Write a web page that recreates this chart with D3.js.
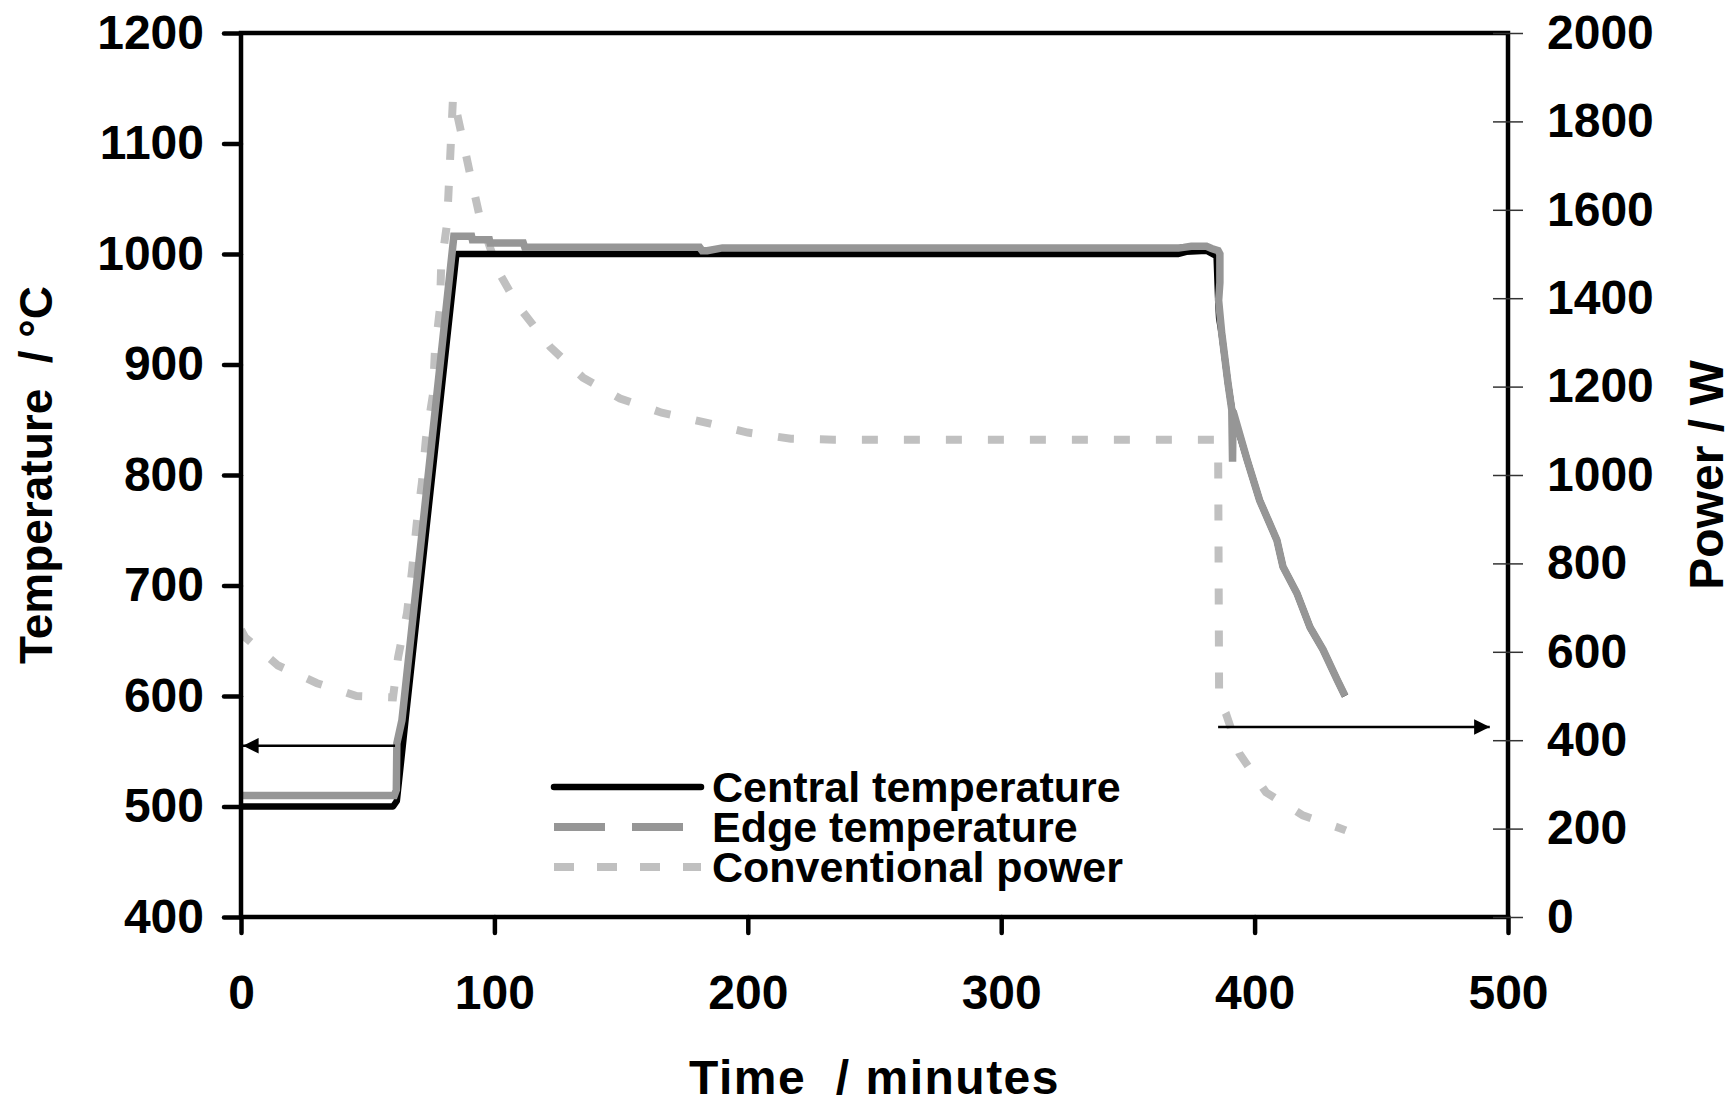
<!DOCTYPE html>
<html>
<head>
<meta charset="utf-8">
<script src="https://cdn.jsdelivr.net/npm/d3@7"></script>
<style>
  body { margin: 0; background: #fff; }
  svg { display: block; }
</style>
</head>
<body>
<svg id="chart"></svg>
<script>
// axis ticks
var timeTicks = [0, 100, 200, 300, 400, 500];
var tempTicks = [400, 500, 600, 700, 800, 900, 1000, 1100, 1200];
var powerTicks = [0, 200, 400, 600, 800, 1000, 1200, 1400, 1600, 1800, 2000];

// central temperature (degC) against time (minutes)
var centralTime = [0, 60, 61.5, 65, 85, 86, 370, 373, 381, 385, 385.6, 386, 387, 389.5, 391, 397, 402, 408.8, 411.2, 416.7, 421.9, 427, 432.5, 435.7];
var centralTemp = [500, 500, 505, 580, 1000, 1000, 1000, 1002, 1003, 998, 960, 942, 928, 883, 860, 814, 777, 741, 717, 693, 662, 642, 615, 600];

// edge temperature (degC)
var edgeTime = [0, 60.5, 61.3, 61.5, 63.5, 84, 91, 91.3, 98, 98.3, 111.4, 112, 181, 182, 184, 190, 370, 372, 375, 381, 383, 385.6, 386.3, 386.3, 385.8, 387, 389.5, 391, 391.3, 391.5, 397, 402, 408.8, 411.2, 416.7, 421.9, 427, 432.5, 435.7];
var edgeTemp = [510, 510, 515, 557, 578, 1016, 1016, 1013, 1013, 1010, 1010, 1006, 1006, 1003, 1003, 1005.5, 1005.5, 1006, 1007, 1007, 1005, 1003, 1000, 974, 958, 929, 883, 859, 812, 858, 814, 777, 741, 717, 693, 662, 642, 615, 600];

// conventional power (W), right axis
var powerTime = [0, 1.6, 14.6, 30, 45.6, 60, 62, 65.5, 67.5, 69.4, 71.4, 73, 75.7, 76.5, 78.5, 79, 81.3, 83.7, 87, 90.4, 94.3, 101.4, 109.3, 122, 135, 149.6, 166, 183, 200, 217, 234, 385, 385.6, 386, 388.7, 394, 404.5, 419, 433.7, 436];
var powerValue = [650, 633, 569, 529, 500, 497, 588, 687, 784, 893, 983, 1083, 1180, 1277, 1376, 1473, 1568, 1858, 1772, 1681, 1582, 1462, 1383, 1290, 1220, 1173, 1141, 1119, 1096, 1082, 1080, 1080, 1075, 490, 460, 370, 282, 230, 201, 196];

// arrows pointing at the axis each series belongs to
var tempArrow = {from: 60.8, to: 0.8, value: 555};
var powerArrow = {from: 385.6, to: 492.8, value: 430};

var legendLabels = ["Central temperature", "Edge temperature", "Conventional power"];

var width = 1732, height = 1110;
var margin = {top: 33, right: 224, bottom: 193, left: 241};
var font = "'Liberation Sans', Arial, sans-serif";

var svg = d3.select("#chart")
  .attr("width", width)
  .attr("height", height)
  .attr("font-family", font)
  .attr("font-weight", "bold");

var x = d3.scaleLinear().domain([0, 500]).range([margin.left, width - margin.right]);
var y = d3.scaleLinear().domain([400, 1200]).range([height - margin.bottom, margin.top]);
var y2 = d3.scaleLinear().domain([0, 2000]).range([height - margin.bottom, margin.top]);

var defs = svg.append("defs");
defs.append("marker")
  .attr("id", "head")
  .attr("viewBox", "0 0 10 10")
  .attr("refX", 10).attr("refY", 5)
  .attr("markerWidth", 6).attr("markerHeight", 6)
  .attr("markerUnits", "strokeWidth")
  .attr("orient", "auto")
  .append("path").attr("d", "M0,0L10,5L0,10Z").attr("fill", "#000");

// clip so nothing leaks outside the frame
defs.append("clipPath").attr("id", "plot")
  .append("rect")
  .attr("x", margin.left).attr("y", margin.top)
  .attr("width", x(500) - x(0)).attr("height", y(400) - y(1200));

var line = d3.line().x(d => x(d[0])).y(d => d[1]);

var g = svg.append("g").attr("clip-path", "url(#plot)");

// power (right axis)
g.append("path")
  .datum(d3.zip(powerTime, powerValue.map(v => y2(v))))
  .attr("d", line)
  .attr("fill", "none")
  .attr("stroke", "#c0c0c0")
  .attr("stroke-width", 8)
  .attr("stroke-dasharray", "16,26");

// central temperature
g.append("path")
  .datum(d3.zip(centralTime, centralTemp.map(v => y(v))))
  .attr("d", line)
  .attr("fill", "none")
  .attr("stroke", "#000")
  .attr("stroke-width", 6.5)
  .attr("stroke-linejoin", "round");

// edge temperature (dense data in original -> looks solid)
g.append("path")
  .datum(d3.zip(edgeTime, edgeTemp.map(v => y(v))))
  .attr("d", line)
  .attr("fill", "none")
  .attr("stroke", "#969696")
  .attr("stroke-width", 7.5);

// arrows
svg.append("line")
  .attr("x1", x(tempArrow.from)).attr("x2", x(tempArrow.to))
  .attr("y1", y(tempArrow.value)).attr("y2", y(tempArrow.value))
  .attr("stroke", "#000").attr("stroke-width", 2.6)
  .attr("marker-end", "url(#head)");

svg.append("line")
  .attr("x1", x(powerArrow.from)).attr("x2", x(powerArrow.to))
  .attr("y1", y2(powerArrow.value)).attr("y2", y2(powerArrow.value))
  .attr("stroke", "#000").attr("stroke-width", 2.6)
  .attr("marker-end", "url(#head)");

// frame
svg.append("rect")
  .attr("x", x(0)).attr("y", y(1200))
  .attr("width", x(500) - x(0)).attr("height", y(400) - y(1200))
  .attr("fill", "none").attr("stroke", "#000").attr("stroke-width", 4.5);

var fmt = d3.format("d");

// left axis
var yAxis = svg.append("g")
  .attr("transform", `translate(${x(0)},0)`)
  .call(d3.axisLeft(y).tickValues(tempTicks).tickFormat(fmt).tickSize(17).tickPadding(20));
// bottom axis
var xAxis = svg.append("g")
  .attr("transform", `translate(0,${y(400)})`)
  .call(d3.axisBottom(x).tickValues(timeTicks).tickFormat(fmt).tickSize(16).tickPadding(42));
// right axis, thin ticks crossing the frame
var y2Axis = svg.append("g")
  .attr("transform", `translate(${x(500)},0)`)
  .call(d3.axisRight(y2).tickValues(powerTicks).tickFormat(fmt).tickSize(15).tickPadding(24));

[yAxis, xAxis, y2Axis].forEach(a => {
  a.select(".domain").remove();
  a.selectAll("text")
    .attr("font-family", font)
    .attr("font-weight", "bold")
    .attr("font-size", 48)
    .attr("fill", "#000");
});
yAxis.selectAll(".tick line").attr("stroke-width", 4.5).attr("stroke-linecap", "round");
xAxis.selectAll(".tick line").attr("stroke-width", 4.5).attr("stroke-linecap", "round");
y2Axis.selectAll(".tick line").attr("x1", -15).attr("stroke", "#333").attr("stroke-width", 1.5);

// axis titles
svg.append("text")
  .attr("transform", `translate(36,${(y(400) + y(1200)) / 2}) rotate(-90)`)
  .attr("text-anchor", "middle").attr("dominant-baseline", "central")
  .attr("font-size", 46)
  .attr("xml:space", "preserve")
  .text("Temperature  / \u00B0C");

svg.append("text")
  .attr("transform", `translate(1706,${(y(400) + y(1200)) / 2}) rotate(-90)`)
  .attr("text-anchor", "middle").attr("dominant-baseline", "central")
  .attr("font-size", 48)
  .text("Power / W");

svg.append("text")
  .attr("x", (x(0) + x(500)) / 2).attr("y", 1077)
  .attr("text-anchor", "middle").attr("dominant-baseline", "central")
  .attr("font-size", 48)
  .attr("letter-spacing", 1.5)
  .attr("xml:space", "preserve")
  .text("Time  / minutes");

// legend
var legendStyles = [
  {stroke: "#000", width: 6.5, dash: null},
  {stroke: "#969696", width: 8, dash: "51,27"},
  {stroke: "#c0c0c0", width: 8, dash: "20,23"}
];
var legend = svg.append("g").attr("transform", "translate(554,787)");
var item = legend.selectAll("g")
  .data(legendLabels)
  .join("g")
  .attr("transform", (d, i) => `translate(0,${i * 40})`);
item.append("line")
  .attr("x1", 0).attr("x2", 147)
  .attr("stroke", (d, i) => legendStyles[i].stroke)
  .attr("stroke-width", (d, i) => legendStyles[i].width)
  .attr("stroke-linecap", (d, i) => i === 0 ? "round" : "butt")
  .attr("stroke-dasharray", (d, i) => legendStyles[i].dash);
item.append("text")
  .attr("x", 158)
  .attr("dominant-baseline", "central")
  .attr("font-size", 43)
  .text(d => d);
</script>
</body>
</html>
